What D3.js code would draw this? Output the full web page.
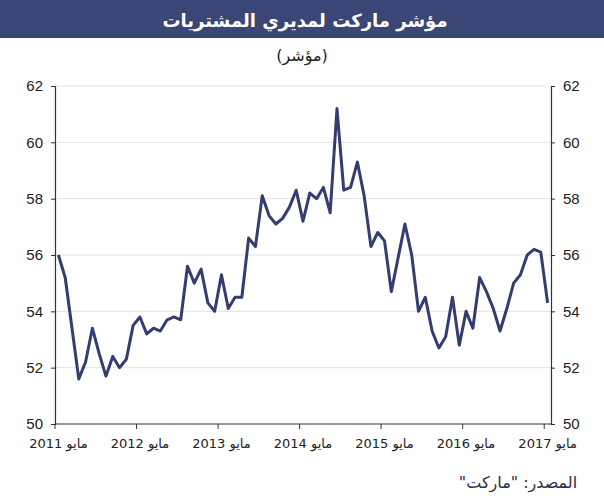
<!DOCTYPE html>
<html>
<head>
<meta charset="utf-8">
<script src="https://cdn.jsdelivr.net/npm/d3@7"></script>
<style>
  body { margin: 0; background: #fff; }
  svg { display: block; }
</style>
</head>
<body>
<svg id="chart" width="604" height="500"></svg>
<script>
// PMI values, monthly from May 2011 to May 2017
var pmiValues = [56.0, 55.2, 53.4, 51.6, 52.2, 53.4, 52.5, 51.7, 52.4, 52.0, 52.3, 53.5,
  53.8, 53.2, 53.4, 53.3, 53.7, 53.8, 53.7, 55.6, 55.0, 55.5, 54.3, 54.0,
  55.3, 54.1, 54.5, 54.5, 56.6, 56.3, 58.1, 57.4, 57.1, 57.3, 57.7, 58.3,
  57.2, 58.2, 58.0, 58.4, 57.5, 61.2, 58.3, 58.4, 59.3, 58.1, 56.3, 56.8,
  56.5, 54.7, 55.9, 57.1, 56.0, 54.0, 54.5, 53.3, 52.7, 53.1, 54.5, 52.8,
  54.0, 53.4, 55.2, 54.7, 54.1, 53.3, 54.1, 55.0, 55.3, 56.0, 56.2, 56.1,
  54.3];
var startMonth = new Date(2011, 4, 1);
var months = d3.timeMonth.range(startMonth, d3.timeMonth.offset(startMonth, pmiValues.length));
var tickYears = [2011, 2012, 2013, 2014, 2015, 2016, 2017];
var tickLabels = ["مايو 2011", "مايو 2012", "مايو 2013", "مايو 2014", "مايو 2015", "مايو 2016", "مايو 2017"];
var yTicks = [50, 52, 54, 56, 58, 60, 62];

var titleText = "مؤشر ماركت لمديري المشتريات";
var subtitleText = "(مؤشر)";
var sourceText = "المصدر:  \"ماركت\"";

var svg = d3.select("#chart"),
    margin = {top: 86, right: 53, bottom: 76, left: 55},
    width = +svg.attr("width") - margin.left - margin.right,
    height = +svg.attr("height") - margin.top - margin.bottom;

var navy = "#3a4676";
var lineColor = "#343d70";
var arFont = "'DejaVu Sans', 'Noto Sans', sans-serif";
var numFont = "'Liberation Sans', Arial, sans-serif";

// title bar
svg.append("rect")
    .attr("x", 0).attr("y", 0)
    .attr("width", 604).attr("height", 38)
    .attr("fill", navy);

svg.append("text")
    .attr("x", 305).attr("y", 27)
    .attr("text-anchor", "middle")
    .attr("fill", "#fff")
    .attr("font-family", arFont)
    .attr("font-weight", "bold")
    .attr("font-size", 18)
    .text(titleText);

svg.append("text")
    .attr("x", 302).attr("y", 61)
    .attr("text-anchor", "middle")
    .attr("fill", "#222")
    .attr("font-family", arFont)
    .attr("font-size", 16)
    .text(subtitleText);

var g = svg.append("g").attr("transform", "translate(" + margin.left + "," + margin.top + ")");

var x = d3.scaleBand()
    .domain(months)
    .range([0, width]);

var y = d3.scaleLinear()
    .domain([50, 62])
    .range([height, 0]);

// gridlines
g.append("g")
    .selectAll("line")
    .data(yTicks.slice(1))
    .enter().append("line")
      .attr("x1", 0).attr("x2", width)
      .attr("y1", function(d) { return y(d); })
      .attr("y2", function(d) { return y(d); })
      .attr("stroke", "#e3e3e3")
      .attr("stroke-width", 1);

// left axis
var yLeft = g.append("g")
    .call(d3.axisLeft(y).tickValues(yTicks).tickSize(4).tickPadding(8));
// right axis
var yRight = g.append("g")
    .attr("transform", "translate(" + width + ",0)")
    .call(d3.axisRight(y).tickValues(yTicks).tickSize(4).tickPadding(8));

[yLeft, yRight].forEach(function(ax) {
  ax.select(".domain").attr("stroke", "#333").attr("stroke-width", 1.2);
  ax.selectAll(".tick line").attr("stroke", "#333");
  ax.selectAll(".tick text")
      .attr("font-family", numFont)
      .attr("font-size", 15)
      .attr("fill", "#222");
});

// bottom axis: ticks at May boundaries, labels centred on the May band
var tickMonths = tickYears.map(function(yr) { return new Date(yr, 4, 1); });
var xAxis = g.append("g").attr("transform", "translate(0," + height + ")");
xAxis.append("line")
    .attr("x1", 0).attr("x2", width)
    .attr("stroke", "#333").attr("stroke-width", 1.2);
xAxis.selectAll(".xtick")
    .data(tickMonths)
    .enter().append("line")
      .attr("class", "xtick")
      .attr("x1", function(d) { return x(d); })
      .attr("x2", function(d) { return x(d); })
      .attr("y1", 0).attr("y2", 5)
      .attr("stroke", "#333");
xAxis.selectAll(".xlabel")
    .data(tickMonths)
    .enter().append("text")
      .attr("class", "xlabel")
      .attr("x", function(d) { return x(d) + x.bandwidth() / 2; })
      .attr("y", 24)
      .attr("text-anchor", "middle")
      .attr("font-family", arFont)
      .attr("font-size", 13)
      .attr("fill", "#222")
      .text(function(d, i) { return tickLabels[i]; });

// the line
var line = d3.line()
    .x(function(d, i) { return x(months[i]) + x.bandwidth() / 2; })
    .y(function(d) { return y(d); });

g.append("path")
    .datum(pmiValues)
    .attr("fill", "none")
    .attr("stroke", lineColor)
    .attr("stroke-width", 3)
    .attr("stroke-linejoin", "round")
    .attr("d", line);

// source
svg.append("text")
    .attr("x", 518).attr("y", 488)
    .attr("text-anchor", "middle")
    .attr("fill", "#2b2f45")
    .attr("font-family", arFont)
    .attr("font-size", 16)
    .style("direction", "rtl")
    .text(sourceText);
</script>
</body>
</html>
